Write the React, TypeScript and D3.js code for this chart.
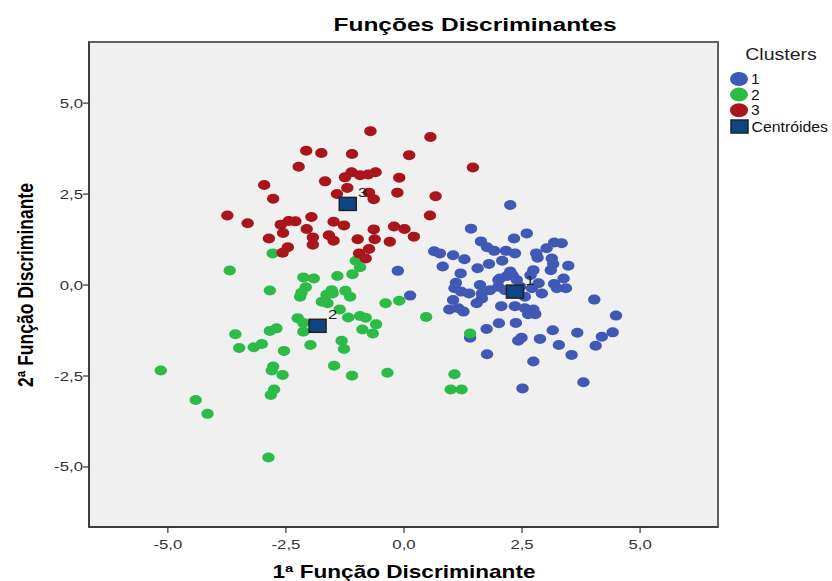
import React from 'react'
import { scaleLinear, format } from 'd3'

// discriminant scores per cluster: [1st function, 2nd function]
const cluster1 = [
  [2.25, 2.2], [1.42, 1.55], [1.63, 1.2], [2.33, 1.28], [2.6, 1.42], [1.76, 1.04], [1.91, 0.94],
  [2.16, 0.94], [2.35, 0.87], [0.64, 0.93], [0.76, 0.87], [1.04, 0.82], [1.28, 0.71], [0.82, 0.51],
  [1.2, 0.32], [1.56, 0.46], [1.8, 0.58], [2.08, 0.67], [2.8, 0.87], [2.83, 0.75], [3.02, 1.01],
  [3.18, 1.17], [3.34, 1.15], [3.13, 0.73], [3.16, 0.58], [3.11, 0.41], [3.48, 0.53], [2.74, 0.41],
  [2.68, 0.27], [1.1, 0.06], [1.07, -0.09], [1.21, -0.18], [1.38, -0.23], [1.61, 0.0], [1.65, -0.23],
  [1.65, -0.37], [1.54, -0.5], [1.04, -0.41], [0.96, -0.67], [1.15, -0.64], [1.26, -0.73], [2.03, 0.18],
  [2.18, 0.25], [2.3, 0.27], [2.39, 0.14], [2.0, -0.05], [2.56, -0.32], [2.71, -0.09], [2.85, 0.05],
  [2.92, -0.23], [3.18, 0.03], [3.38, 0.18], [3.43, -0.09], [3.24, -0.09], [2.06, -0.58], [2.35, -0.58],
  [2.56, -0.64], [2.74, -0.67], [2.63, -0.8], [2.78, -0.8], [2.01, -1.05], [2.37, -1.04], [1.75, -1.21],
  [1.4, -1.45], [2.49, -1.45], [2.42, -1.53], [2.88, -1.48], [3.15, -1.24], [3.67, -1.31], [3.28, -1.65],
  [4.19, -1.42], [4.42, -1.3], [4.06, -1.67], [4.49, -0.84], [4.03, -0.4], [3.55, -1.92], [2.74, -2.1],
  [1.76, -1.9], [0.13, -0.29], [-0.13, 0.39], [3.8, -2.67], [2.51, -2.84], [2.0, 0.14], [2.25, 0.37],
  [2.14, -0.14], [2.46, -0.05], [1.82, -0.14],
]

const cluster2 = [
  [-2.78, 0.87], [-3.69, 0.4], [-2.13, 0.21], [-1.91, 0.18], [-1.41, 0.25], [-1.09, 0.3], [-0.93, 0.49],
  [-1.02, 0.67], [-2.84, -0.15], [-2.08, -0.06], [-2.17, -0.21], [-2.2, -0.32], [-1.53, -0.14],
  [-1.64, -0.27], [-1.74, -0.46], [-1.62, -0.5], [-1.51, -0.23], [-1.24, -0.16], [-1.14, -0.32],
  [-1.36, -0.67], [-0.39, -0.5], [-0.1, -0.43], [-2.25, -0.91], [-2.13, -1.04], [-2.13, -1.28],
  [-1.18, -0.89], [-0.93, -0.85], [-0.81, -0.9], [-0.59, -1.08], [-0.88, -1.22], [-0.66, -1.33],
  [-3.57, -1.35], [-2.84, -1.26], [-2.7, -1.19], [-3.49, -1.73], [-3.18, -1.71], [-3.01, -1.62],
  [-2.54, -1.81], [-1.98, -1.65], [-1.32, -1.53], [-1.27, -1.76], [-5.15, -2.35], [-2.77, -2.24],
  [-2.8, -2.35], [-2.57, -2.47], [-1.48, -2.22], [-1.1, -2.49], [-0.35, -2.41], [-2.75, -2.87],
  [-2.82, -3.02], [-4.41, -3.16], [-4.16, -3.54], [-2.87, -4.74], [0.47, -0.88], [1.4, -1.33],
  [1.07, -2.45], [0.99, -2.87], [1.22, -2.87],
]

const cluster3 = [
  [-0.71, 4.23], [0.56, 4.07], [-2.07, 3.69], [-1.75, 3.63], [-1.1, 3.6], [0.11, 3.57], [1.46, 3.23],
  [-2.23, 3.25], [-1.11, 3.1], [-1.25, 2.96], [-0.93, 3.02], [-0.76, 3.04], [-0.6, 3.1], [-0.1, 2.95],
  [-1.67, 2.85], [-2.96, 2.75], [-1.2, 2.67], [-1.42, 2.5], [-0.74, 2.54], [-0.64, 2.36], [-0.14, 2.54],
  [0.67, 2.44], [-2.77, 2.37], [-3.74, 1.91], [-3.31, 1.7], [0.55, 1.91], [-2.61, 1.66], [-2.44, 1.76],
  [-2.3, 1.75], [-1.96, 1.87], [-1.49, 1.74], [-1.27, 1.64], [-2.06, 1.54], [-2.56, 1.43], [-2.86, 1.28],
  [-1.93, 1.31], [-1.93, 1.11], [-1.59, 1.37], [-1.49, 1.22], [-0.98, 1.26], [-0.64, 1.53], [-0.62, 1.26],
  [-0.21, 1.61], [0.01, 1.54], [0.21, 1.33], [-0.3, 1.19], [-0.74, 0.99], [-2.46, 1.04], [-2.57, 0.89],
  [-0.95, 0.87], [-0.81, 0.73],
]

const centroidLabels = ['1', '2', '3']
const centroids = [[2.35, -0.18], [-1.83, -1.12], [-1.19, 2.23]]

const xTicks = [-5, -2.5, 0, 2.5, 5]
const yTicks = [-5, -2.5, 0, 2.5, 5]

const clusterColors = ['#3f59b4', '#2dbb47', '#a8151b']
const centroidColor = '#0d4783'
const font = '"Liberation Sans", Arial, sans-serif'
const SX = 1.29 // the original picture is stretched horizontally

const fmt = (v: number) => format('.1f')(v).replace('.', ',').replace('−', '-')

const T = ({ x, y, size, anchor = 'start', weight = 'normal', fill = '#000', sx = SX, children }: any) => (
  <text
    transform={`translate(${x},${y}) scale(${sx},1)`}
    fontFamily={font}
    fontSize={size}
    fontWeight={weight}
    textAnchor={anchor}
    fill={fill}
  >
    {children}
  </text>
)

const App = () => {
  const width = 832
  const height = 581
  const left = 89, right = 718, top = 42, bottom = 527

  const x = scaleLinear().domain([-6.67, 6.65]).range([left, right])
  const y = scaleLinear().domain([-6.65, 6.68]).range([bottom, top])

  const groups = [cluster1, cluster2, cluster3]

  return (
    <svg width={width} height={height} style={{ position: 'absolute', left: 0, top: 0, background: '#fff' }}>
      <T x={475} y={31} size={19} anchor="middle" weight="bold">Funções Discriminantes</T>

      <rect x={left} y={top} width={right - left} height={bottom - top} fill="#f0f0f0" />

      {groups.map((pts, gi) => (
        <g key={gi}>
          {pts.map((d, i) => (
            <ellipse key={i} cx={x(d[0])} cy={y(d[1])} rx={6.2} ry={5} fill={clusterColors[gi]} />
          ))}
        </g>
      ))}

      {centroids.map((d, i) => (
        <g key={i}>
          <rect x={x(d[0]) - 8.5} y={y(d[1]) - 6.5} width={17} height={13} fill={centroidColor} stroke="#222" strokeWidth={1.5} />
          <T x={x(d[0]) + 15} y={y(d[1]) - 7} size={13} anchor="middle" fill="#222">{centroidLabels[i]}</T>
        </g>
      ))}

      {/* frame */}
      <rect x={left} y={top} width={right - left} height={bottom - top} fill="none" stroke="#606060" strokeWidth={2} />
      <line x1={left} x2={left} y1={top} y2={bottom} stroke="#333" strokeWidth={1.5} />
      <line x1={left} x2={right} y1={bottom} y2={bottom} stroke="#333" strokeWidth={1.5} />

      {yTicks.map(t => (
        <g key={t}>
          <line x1={left - 6} x2={left} y1={y(t)} y2={y(t)} stroke="#333" strokeWidth={1.2} />
          <T x={left - 6} y={y(t) + 4.5} size={13} anchor="end" fill="#333">{fmt(t)}</T>
        </g>
      ))}
      {xTicks.map(t => (
        <g key={t}>
          <line x1={x(t)} x2={x(t)} y1={bottom} y2={bottom + 6} stroke="#333" strokeWidth={1.2} />
          <T x={x(t)} y={549} size={13} anchor="middle" fill="#333">{fmt(t)}</T>
        </g>
      ))}

      <T x={404} y={578} size={17.5} anchor="middle" weight="bold">1ª Função Discriminante</T>
      <text
        transform={`translate(33,285) rotate(-90) scale(1,${SX})`}
        fontFamily={font}
        fontSize={17.5}
        fontWeight="bold"
        textAnchor="middle"
      >
        2ª Função Discriminante
      </text>

      {/* legend */}
      <T x={781} y={60} size={16} anchor="middle" fill="#222" sx={1.22}>Clusters</T>
      {centroidLabels.map((c, i) => (
        <g key={c}>
          <ellipse cx={739} cy={79 + i * 15.6} rx={9} ry={7} fill={clusterColors[i]} />
          <T x={751} y={84 + i * 15.6} size={14} fill="#111" sx={1.12}>{c}</T>
        </g>
      ))}
      <rect x={731} y={120} width={17} height={13} fill={centroidColor} stroke="#222" strokeWidth={1.5} />
      <T x={751.5} y={131.5} size={14} fill="#111" sx={1.13}>Centróides</T>
    </svg>
  )
}

export default App
